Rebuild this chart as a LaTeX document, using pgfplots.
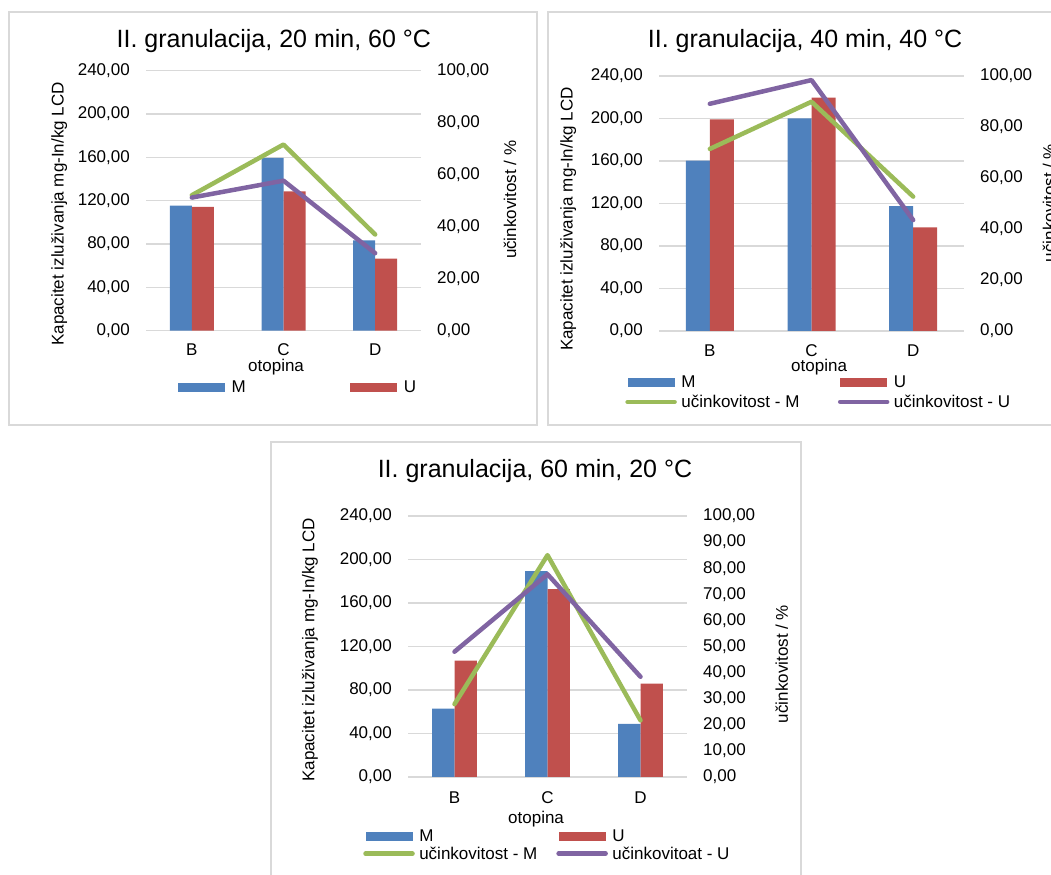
\documentclass[border=0pt]{standalone}
\usepackage{pgfplots}
\pgfplotsset{compat=1.18}
\usepackage{pgfplotstable}
\usepackage{fontspec}
\setmainfont{Liberation Sans}

\definecolor{mblue}{HTML}{4F81BD}
\definecolor{ured}{HTML}{C0504D}
\definecolor{effg}{HTML}{9BBB59}
\definecolor{effp}{HTML}{8064A2}
\definecolor{gridg}{HTML}{D9D9D9}

\newcommand\fs{\fontsize{17bp}{20bp}\selectfont}
\newcommand\ts{\fontsize{25bp}{30bp}\selectfont}

% 20 min, 60 C
\pgfplotstableread{
x M U eM eU
0 115.4 114.4 52.1 51.2
1 159.5 128.6 71.6 57.7
2 83.3 66.6 37.0 29.8
}\tabA
% 40 min, 40 C
\pgfplotstableread{
x M U eM eU
0 160.3 199.2 71.4 89.1
1 200.2 219.6 89.9 98.4
2 117.6 97.6 52.7 43.5
}\tabB
% 60 min, 20 C
\pgfplotstableread{
x M U eM eU
0 62.9 107.1 27.9 48.0
1 189.4 172.8 85.0 77.7
2 48.8 85.9 21.7 38.4
}\tabC

\pgfplotsset{
  base/.style={scale only axis, xmin=-0.5, xmax=2.5,
    axis line style={draw=none}, tick style={draw=none}, major tick length=0pt,
    /pgf/number format/assume math mode=true,
    tick label style={font=\fs}, label style={font=\fs},
    y tick label style={/pgf/number format/.cd, fixed, fixed zerofill,
      precision=2, use comma, 1000 sep={}, /tikz/.cd}},
  barax/.style={base, ymin=0, ymax=240, ytick={0,40,...,240},
    ymajorgrids, major grid style={gridg, line width=1.3bp},
    xtick={0,1,2}, xticklabels={B,C,D}, ybar=0pt,
    xlabel={otopina}, ylabel={Kapacitet izluživanja mg-In/kg LCD},
    yticklabel style={anchor=east, inner sep=0pt, xshift=-16bp},
    xticklabel style={anchor=north, inner sep=0pt},
    title style={font=\ts, anchor=center, yshift=0pt}},
  effax/.style={base, ymin=0, ymax=100, yticklabel pos=right, xtick=\empty,
    ylabel={učinkovitost / \%},
    yticklabel style={anchor=west, inner sep=0pt, xshift=16bp}},
  barleg/.style={legend image code/.code={\path (-2bp,0bp) (49bp,0bp);
    \fill[##1] (0bp,-4.5bp) rectangle (47bp,4.5bp);}},
  lineleg/.style={legend image code/.code={\draw[##1] (0bp,0bp) -- (47bp,0bp);}},
  effline/.style={line width=4.5bp, line join=round, line cap=round, lineleg, mark=none},
  legbase/.style={legend cell align=left, legend columns=2,
    legend style={draw=none, fill=none, inner sep=0pt, font=\fs,
      nodes={inner sep=1.5bp, text depth=0.15em}, column sep=3bp}},
}

\begin{document}
\begin{tikzpicture}[x=1bp,y=1bp]
\path (0,0) rectangle (1051,875);
\coordinate (p1) at (146,544.3);
\coordinate (p2) at (659,544);
\coordinate (p3) at (408,98);

% frames
\begin{scope}[overlay]
\draw[gridg, line width=1.5bp] (9,863) rectangle (537,450);
\draw[gridg, line width=1.5bp] (548,863) rectangle (1060,450);
\draw[gridg, line width=1.5bp] (271,433) rectangle (801,-10);
\end{scope}

% ---- panel 1
\begin{axis}[barax, at={(p1)}, width=275bp, height=260bp, bar width=22bp,
  title={II. granulacija, 20 min, 60 °C},
  title style={at={(axis description cs:0.465,1.091)}},
  ylabel style={at={(axis description cs:-0.316,0.449)}, anchor=center},
  xlabel style={at={(axis description cs:0.473,-0.14)}, anchor=center},
  xticklabel style={yshift=-13.2bp},
  legbase, legend style={at={(axis description cs:0.109,-0.220)}, anchor=west,
    /tikz/every even column/.append style={column sep=101bp}}]
\addplot[fill=mblue, draw=none, barleg] table[x=x,y=M]{\tabA};
\addlegendentry{M}
\addplot[fill=ured, draw=none, barleg] table[x=x,y=U]{\tabA};
\addlegendentry{U}
\end{axis}
\begin{axis}[effax, at={(p1)}, width=275bp, height=260bp,
  ytick={0,20,...,100},
  ylabel style={at={(axis description cs:1.324,0.503)}, anchor=center}]
\addplot[effline, effg] table[x=x,y=eM]{\tabA};
\addplot[effline, effp] table[x=x,y=eU]{\tabA};
\end{axis}

% ---- panel 2
\begin{axis}[barax, at={(p2)}, width=305bp, height=255bp, bar width=24bp,
  title={II. granulacija, 40 min, 40 °C},
  title style={at={(axis description cs:0.479,1.114)}},
  ylabel style={at={(axis description cs:-0.298,0.439)}, anchor=center},
  xlabel style={at={(axis description cs:0.525,-0.141)}, anchor=center},
  xticklabel style={yshift=-13.9bp}]
\addplot[fill=mblue, draw=none] table[x=x,y=M]{\tabB};
\addplot[fill=ured, draw=none] table[x=x,y=U]{\tabB};
\end{axis}
\begin{axis}[effax, at={(p2)}, width=305bp, height=255bp,
  ytick={0,20,...,100},
  ylabel style={at={(axis description cs:1.279,0.502)}, anchor=center, overlay},
  legbase, legend style={at={(axis description cs:-0.111,-0.169)}, anchor=north west,
    row sep=3bp, /tikz/every even column/.append style={column sep=37bp}}]
\addlegendimage{barleg, fill=mblue, draw=none}
\addlegendentry{M}
\addlegendimage{barleg, fill=ured, draw=none}
\addlegendentry{U}
\addplot[effline, effg] table[x=x,y=eM]{\tabB};
\addlegendentry{učinkovitost - M}
\addplot[effline, effp] table[x=x,y=eU]{\tabB};
\addlegendentry{učinkovitost - U}
\end{axis}

% ---- panel 3
\begin{axis}[barax, at={(p3)}, width=279bp, height=261bp, bar width=22.4bp,
  title={II. granulacija, 60 min, 20 °C},
  title style={at={(axis description cs:0.455,1.149)}},
  ylabel style={at={(axis description cs:-0.351,0.487)}, anchor=center},
  xlabel style={at={(axis description cs:0.459,-0.161)}, anchor=center},
  xticklabel style={yshift=-14.5bp}]
\addplot[fill=mblue, draw=none] table[x=x,y=M]{\tabC};
\addplot[fill=ured, draw=none] table[x=x,y=U]{\tabC};
\end{axis}
\begin{axis}[effax, at={(p3)}, width=279bp, height=261bp,
  ytick={0,10,...,100},
  ylabel style={at={(axis description cs:1.34,0.433)}, anchor=center},
  legbase, legend style={at={(axis description cs:-0.161,-0.195)}, anchor=north west,
    row sep=1bp, /tikz/every even column/.append style={column sep=17.5bp}}]
\addlegendimage{barleg, fill=mblue, draw=none}
\addlegendentry{M}
\addlegendimage{barleg, fill=ured, draw=none}
\addlegendentry{U}
\addplot[effline, effg] table[x=x,y=eM]{\tabC};
\addlegendentry{učinkovitost - M}
\addplot[effline, effp] table[x=x,y=eU]{\tabC};
\addlegendentry{učinkovitoat - U}
\end{axis}
\end{tikzpicture}
\end{document}
